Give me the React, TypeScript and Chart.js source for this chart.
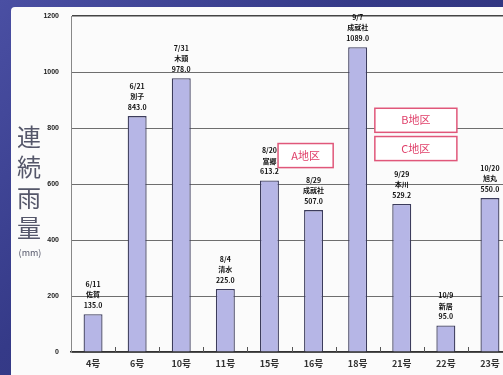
import React, { useEffect, useRef } from "react";
import { Chart, registerables } from "chart.js";

Chart.register(...registerables);

const categories = ["4号", "6号", "10号", "11号", "15号", "16号", "18号", "21号", "22号", "23号"];
const rainfall = [135.0, 843.0, 978.0, 225.0, 613.2, 507.0, 1089.0, 529.2, 95.0, 550.0];
const dates = ["6/11", "6/21", "7/31", "8/4", "8/20", "8/29", "9/7", "9/29", "10/9", "10/20"];
const stations = ["佐賀", "別子", "木頭", "清水", "富郷", "成就社", "成就社", "本川", "新居", "旭丸"];
const yTickValues = [0, 200, 400, 600, 800, 1000, 1200];
const regionLabels = ["A地区", "B地区", "C地区"];
const regionX = [4.82, 7.32, 7.32];
const regionY = [702, 828, 727];
const regionW = [1.25, 1.86, 1.86];
const regionH = [86, 86, 86];

const JP = "'Noto Sans CJK JP', 'Noto Sans', sans-serif";

const overlayPlugin = {
  id: "overlay",
  afterDatasetsDraw(chart: any) {
    const { ctx, chartArea } = chart;
    const xs = chart.scales.x;
    const ys = chart.scales.y;
    ctx.save();
    ctx.strokeStyle = "#555";
    ctx.lineWidth = 1;
    const step = (chartArea.right - chartArea.left) / categories.length;
    for (let i = 1; i < categories.length; i++) {
      const x = Math.round(chartArea.left + i * step) + 0.5;
      ctx.beginPath();
      ctx.moveTo(x, chartArea.bottom);
      ctx.lineTo(x, chartArea.bottom - 5);
      ctx.stroke();
    }
    ctx.fillStyle = "#111";
    ctx.textAlign = "center";
    ctx.textBaseline = "middle";
    ctx.font = `bold 7px ${JP}`;
    rainfall.forEach((v, i) => {
      const x = xs.getPixelForValue(i);
      const top = ys.getPixelForValue(v);
      ctx.fillText(dates[i], x, top - 30);
      ctx.fillText(stations[i], x, top - 19.5);
      ctx.fillText(v.toFixed(1), x, top - 9);
    });
    regionLabels.forEach((t, i) => {
      const cx = xs.getPixelForValue(regionX[i]);
      const cy = ys.getPixelForValue(regionY[i]);
      const w = regionW[i] * step;
      const h = Math.abs(ys.getPixelForValue(0) - ys.getPixelForValue(regionH[i]));
      ctx.fillStyle = "#ffffff";
      ctx.fillRect(cx - w / 2, cy - h / 2, w, h);
      ctx.strokeStyle = "#e0577a";
      ctx.lineWidth = 1.5;
      ctx.strokeRect(cx - w / 2, cy - h / 2, w, h);
      ctx.fillStyle = "#e0406a";
      ctx.font = `11px ${JP}`;
      ctx.fillText(t, cx, cy);
    });
    ctx.fillStyle = "#55576a";
    ctx.font = `24px ${JP}`;
    const chars = ["連", "続", "雨", "量"];
    const cys = [137, 167, 198, 228];
    chars.forEach((c, i) => ctx.fillText(c, 29, cys[i]));
    ctx.font = `9px ${JP}`;
    ctx.fillText("(mm)", 30, 253);
    ctx.restore();
  },
};

export default function App() {
  const ref = useRef<HTMLCanvasElement>(null);
  useEffect(() => {
    const canvas = ref.current!;
    const chart = new Chart(canvas, {
      type: "bar",
      data: {
        labels: categories,
        datasets: [
          {
            data: rainfall,
            backgroundColor: "#b6b6e6",
            borderColor: "#3c3c5c",
            borderWidth: 1.3,
            categoryPercentage: 1,
            barPercentage: 0.43,
          },
        ],
      },
      options: {
        responsive: false,
        animation: false,
        devicePixelRatio: 1,
        layout: { padding: { top: 15, right: 3, left: 0, bottom: 0 } },
        plugins: { legend: { display: false }, tooltip: { enabled: false } },
        scales: {
          x: {
            grid: { display: false, drawTicks: false },
            border: { display: true, color: "#333", width: 1.5 },
            ticks: { font: { size: 9, family: JP, weight: "bold" }, color: "#333", padding: 6 },
            afterFit: (s: any) => {
              s.height = 23;
            },
          },
          y: {
            min: 0,
            max: 1200,
            afterBuildTicks: (s: any) => {
              s.ticks = yTickValues.map((v) => ({ value: v }));
            },
            grid: {
              drawTicks: false,
              color: (c: any) => (c.tick && c.tick.value === 1200 ? "#444" : "#6e6e6e"),
              lineWidth: (c: any) => (c.tick && c.tick.value === 1200 ? 1.6 : 1),
            },
            border: { display: true, color: "#888", width: 1 },
            ticks: {
              font: { size: 7, family: "'Liberation Sans', sans-serif", weight: "bold" },
              color: "#222",
              padding: 12,
              callback: (v: any) => String(v),
            },
            afterFit: (s: any) => {
              s.width = 71;
            },
          },
        },
      },
      plugins: [overlayPlugin],
    });
    return () => chart.destroy();
  }, []);

  return (
    <div
      style={{
        position: "fixed",
        left: 0,
        top: 0,
        width: 503,
        height: 375,
        overflow: "hidden",
        background: "linear-gradient(135deg, #4a4fa3 0%, #353a88 40%, #2a2e72 100%)",
      }}
    >
      <div
        style={{
          position: "absolute",
          left: 11,
          top: 7,
          width: 520,
          height: 400,
          background: "#fbfbfb",
          borderTopLeftRadius: 4,
        }}
      />
      <canvas
        ref={ref}
        width={515}
        height={375}
        style={{ position: "absolute", left: 0, top: 0, width: 515, height: 375 }}
      />
    </div>
  );
}
